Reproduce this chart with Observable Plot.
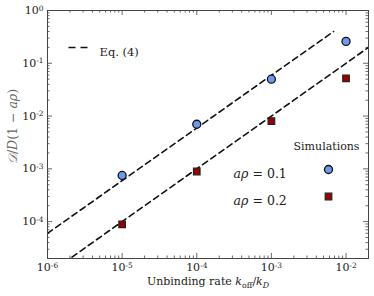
<!DOCTYPE html>
<html><head><meta charset="utf-8">
<script src="https://cdn.jsdelivr.net/npm/d3@7"></script>
<script src="https://cdn.jsdelivr.net/npm/@observablehq/plot@0.6"></script>
<style>
body{margin:0;background:#fff}
#chart svg, #chart svg text { font-family: "DejaVu Serif", serif !important; }
</style>
</head><body><div id="chart"></div>
<script>
// ---- data ----
const simX = [1e-5, 1e-4, 1e-3, 1e-2];
const sim01 = [7.5e-4, 7.0e-3, 0.05, 0.26];   // aρ = 0.1 (circles)
const sim02 = [8.9e-5, 8.9e-4, 8.0e-3, 0.052]; // aρ = 0.2 (squares)
const eqUpperX = [1e-6, 6.8e-3];
const eqUpperY = [6.0e-5, 0.40];
const eqLowerX = [1e-6, 2e-2];
const eqLowerY = [1.0e-5, 0.20];
const xMajor = [1e-6, 1e-5, 1e-4, 1e-3, 1e-2];
const yMajor = [1e-4, 1e-3, 1e-2, 1e-1, 1];
const xDomain = [1e-6, 2e-2];
const yDomain = [2e-5, 1];
const xLabelText = "Unbinding rate koff/kD";
const yLabelText = "D/D(1 − aρ)";

const W = 374, H = 296, mL = 47, mR = 6, mT = 10, mB = 38;
const iW = W - mL - mR, iH = H - mT - mB;
const minors = (majors) => majors.flatMap(m => d3.range(2, 10).map(k => k * m));
const xMinor = minors(xMajor).filter(v => v >= xDomain[0] && v <= xDomain[1]);
const yMinor = minors([1e-5, ...yMajor]).filter(v => v >= yDomain[0] && v <= yDomain[1]);

const pts01 = simX.map((x, i) => ({x, y: sim01[i]}));
const pts02 = simX.map((x, i) => ({x, y: sim02[i]}));
const lineU = eqUpperX.map((x, i) => ({x, y: eqUpperY[i]}));
const lineL = eqLowerX.map((x, i) => ({x, y: eqLowerY[i]}));

const tc = "#444";
const fmt = d => "10^" + Math.round(Math.log10(d));
const dashSym = {draw(ctx) { ctx.moveTo(-10, 0); ctx.lineTo(10, 0); }};
const FF = "DejaVu Serif";
const blue = "#6b9bea", red = "#990000";

const chart = Plot.plot({
  width: W, height: H,
  marginLeft: mL, marginRight: mR, marginTop: mT, marginBottom: mB,
  style: {fontFamily: FF, fontSize: "11px", color: "#333", background: "#fff"},
  x: {type: "log", domain: xDomain},
  y: {type: "log", domain: yDomain},
  marks: [
    Plot.tickX(xMajor, {x: d => d, insetTop: iH - 5, stroke: tc, strokeWidth: 0.8}),
    Plot.tickX(xMinor, {x: d => d, insetTop: iH - 2.5, stroke: tc, strokeWidth: 0.8}),
    Plot.tickX(xMajor, {x: d => d, insetBottom: iH - 5, stroke: tc, strokeWidth: 0.8}),
    Plot.tickX(xMinor, {x: d => d, insetBottom: iH - 2.5, stroke: tc, strokeWidth: 0.8}),
    Plot.tickY(yMajor, {y: d => d, insetRight: iW - 5, stroke: tc, strokeWidth: 0.8}),
    Plot.tickY(yMinor, {y: d => d, insetRight: iW - 2.5, stroke: tc, strokeWidth: 0.8}),
    Plot.tickY(yMajor, {y: d => d, insetLeft: iW - 5, stroke: tc, strokeWidth: 0.8}),
    Plot.tickY(yMinor, {y: d => d, insetLeft: iW - 2.5, stroke: tc, strokeWidth: 0.8}),
    Plot.axisX({ticks: xMajor, tickSize: 0, tickPadding: 5, tickFormat: fmt, label: null, fill: "#222", fontSize: 11}),
    Plot.axisY({ticks: yMajor, tickSize: 0, tickPadding: 4, tickFormat: fmt, label: null, fill: "#222", fontSize: 11}),
    Plot.line(lineU, {x: "x", y: "y", stroke: "#111", strokeWidth: 1.6, strokeDasharray: "6,4", clip: true}),
    Plot.line(lineL, {x: "x", y: "y", stroke: "#111", strokeWidth: 1.6, strokeDasharray: "6,4", clip: true}),
    Plot.dot(pts01, {x: "x", y: "y", r: 4, fill: blue, stroke: "#111", strokeWidth: 1.3}),
    Plot.dot(pts02, {x: "x", y: "y", r: 3.7, symbol: "square", fill: red, stroke: "#222", strokeWidth: 1.2}),
    Plot.frame({stroke: "#444", strokeWidth: 1}),
    Plot.dot([0], {frameAnchor: "top-left", dx: 31, dy: 37, symbol: dashSym, r: 1, fill: "none", stroke: "#111", strokeWidth: 1.6, strokeDasharray: "7,5"}),
    Plot.text(["Eq. (4)"], {frameAnchor: "top-left", dx: 52, dy: 37, textAnchor: "start", fontSize: 11.5, fill: "#222"}),
    Plot.text(["Simulations"], {frameAnchor: "top-right", dx: -9, dy: 132, textAnchor: "end", fontSize: 11, fill: "#222"}),
    Plot.text(["aρ"], {frameAnchor: "top-left", dx: 186, dy: 159, textAnchor: "start", fontSize: 12.5, fontStyle: "italic", fill: "#222"}),
    Plot.text(["= 0.1"], {frameAnchor: "top-left", dx: 205, dy: 159, textAnchor: "start", fontSize: 12.5, fill: "#222"}),
    Plot.text(["aρ"], {frameAnchor: "top-left", dx: 186, dy: 186, textAnchor: "start", fontSize: 12.5, fontStyle: "italic", fill: "#222"}),
    Plot.text(["= 0.2"], {frameAnchor: "top-left", dx: 205, dy: 186, textAnchor: "start", fontSize: 12.5, fill: "#222"}),
    Plot.dot([0], {frameAnchor: "top-right", dx: -40, dy: 159, r: 4, fill: blue, stroke: "#111", strokeWidth: 1.3}),
    Plot.dot([0], {frameAnchor: "top-right", dx: -40, dy: 186, r: 3.7, symbol: "square", fill: red, stroke: "#222", strokeWidth: 1.2}),
    Plot.text([xLabelText], {frameAnchor: "bottom", dy: 26, textAnchor: "middle", fontSize: 11, fill: "#222"}),
    Plot.text([yLabelText], {frameAnchor: "left", dx: -35, dy: -8, rotate: -90, textAnchor: "middle", fontSize: 12.5, fill: "#666"})
  ]
});
document.getElementById("chart").appendChild(chart);

const svg = d3.select(chart);
svg.selectAll('[aria-label="x-axis tick label"] text, [aria-label="y-axis tick label"] text').each(function() {
  const s = this.textContent.split("^");
  if (s.length !== 2) return;
  const t = d3.select(this);
  t.text(s[0]);
  t.append("tspan").attr("dy", "-0.45em").attr("font-size", "0.68em").text(s[1]);
});
const byText = s => svg.selectAll("text").filter(function() { return this.textContent === s; });
byText(xLabelText).each(function() {
  const t = d3.select(this); t.text("");
  t.append("tspan").text("Unbinding rate ");
  t.append("tspan").attr("font-style", "italic").text("k");
  t.append("tspan").attr("font-size", "0.72em").attr("dy", "3").text("off");
  t.append("tspan").attr("dy", "-3").text("/");
  t.append("tspan").attr("font-style", "italic").text("k");
  t.append("tspan").attr("font-style", "italic").attr("font-size", "0.72em").attr("dy", "3").text("D");
});
byText(yLabelText).each(function() {
  const t = d3.select(this); t.text("");
  t.append("tspan").attr("font-style", "italic").text("𝒟");
  t.append("tspan").text("/");
  t.append("tspan").attr("font-style", "italic").text("D");
  t.append("tspan").text("(1 − ");
  t.append("tspan").attr("font-style", "italic").text("aρ");
  t.append("tspan").text(")");
});
</script></body></html>
